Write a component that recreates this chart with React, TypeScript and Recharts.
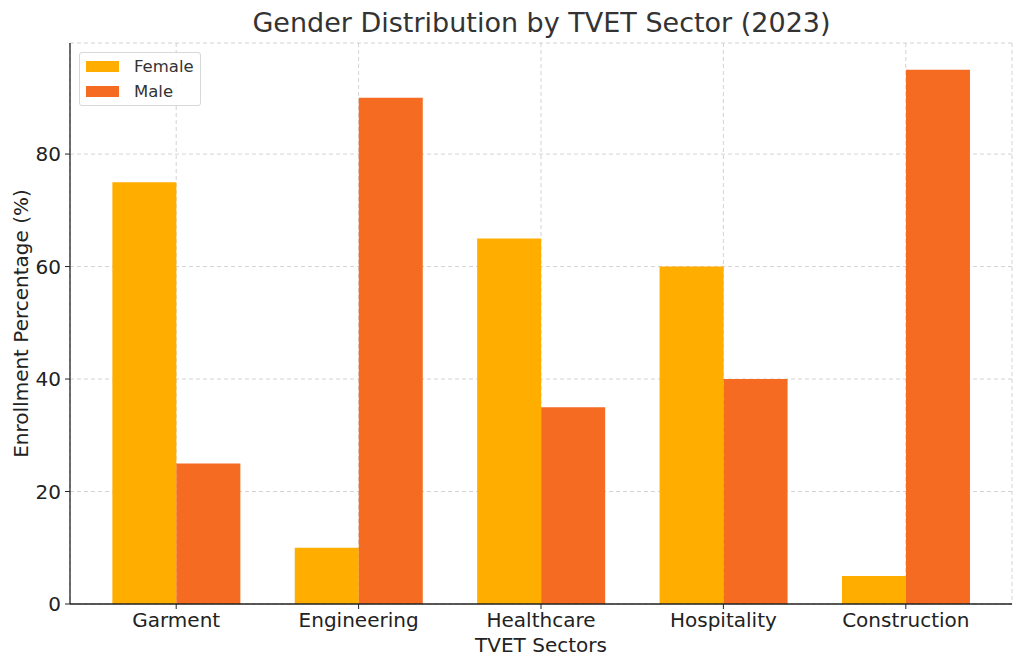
import React from "react";
import { BarChart, Bar, XAxis, YAxis, CartesianGrid } from "recharts";

const sectors = ["Garment", "Engineering", "Healthcare", "Hospitality", "Construction"];
const female = [75, 10, 65, 60, 5];
const male = [25, 90, 35, 40, 95];
const yTicks = [0, 20, 40, 60, 80];

const FEMALE = "#ffae00";
const MALE = "#f46b21";
const FONT = "'DejaVu Sans', sans-serif";

const data = sectors.map((s, i) => ({ sector: s, Female: female[i], Male: male[i] }));

const LegendBox = () => (
  <div style={{
    position: "absolute", left: 79, top: 52, width: 120, height: 52,
    background: "rgba(255,255,255,0.85)", border: "1px solid #d8d8d8", borderRadius: 3,
    fontFamily: FONT, fontSize: 16.5, color: "#333",
  }}>
    {[["Female", FEMALE], ["Male", MALE]].map(([name, c], i) => (
      <div key={name} style={{ position: "absolute", left: 6, top: 3 + i * 25, display: "flex", alignItems: "center", height: 20 }}>
        <span style={{ display: "inline-block", width: 33, height: 11, background: c, marginRight: 15 }} />
        <span>{name}</span>
      </div>
    ))}
  </div>
);

export default function App() {
  return (
    <div style={{ position: "absolute", left: 0, top: 0, width: 1024, height: 669, background: "#fff" }}>
      <div style={{
        position: "absolute", left: 0, width: 1083, top: 7, textAlign: "center",
        fontFamily: FONT, fontSize: 27, color: "#333",
      }}>
        Gender Distribution by TVET Sector (2023)
      </div>
      <BarChart width={1024} height={669} data={data}
        margin={{ top: 43, right: 12, left: 0, bottom: 0 }}
        barCategoryGap="15%" barGap={0}>
        <XAxis dataKey="sector" height={65} padding={{ left: 15, right: 15 }}
          axisLine={{ stroke: "#222", strokeWidth: 1.3 }} tickLine={{ stroke: "#222" }} tickSize={5} tickMargin={4}
          tick={{ fill: "#222", fontSize: 20, fontFamily: FONT }}
          label={{ value: "TVET Sectors", position: "insideBottom", offset: 17, fill: "#222", fontSize: 20, fontFamily: FONT }} />
        <YAxis width={70} domain={[0, 99.75]} ticks={yTicks} allowDataOverflow
          axisLine={{ stroke: "#222", strokeWidth: 1.3 }} tickLine={{ stroke: "#222" }} tickSize={5} tickMargin={4}
          tick={{ fill: "#222", fontSize: 20, fontFamily: FONT }}
          label={{ value: "Enrollment Percentage (%)", angle: -90, position: "insideLeft", offset: 21,
            style: { textAnchor: "middle", fill: "#222", fontSize: 20, fontFamily: FONT } }} />
        <Bar dataKey="Female" fill={FEMALE} isAnimationActive={false} />
        <Bar dataKey="Male" fill={MALE} isAnimationActive={false} />
        <CartesianGrid stroke="#c8c8c8" strokeDasharray="4 3" strokeWidth={0.8} />
      </BarChart>
      <LegendBox />
    </div>
  );
}
